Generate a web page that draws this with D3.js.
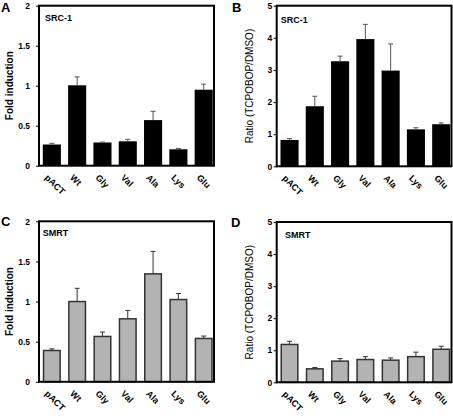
<!DOCTYPE html>
<html><head><meta charset="utf-8">
<script src="https://cdn.jsdelivr.net/npm/d3@7"></script>
<style>body{margin:0;background:#fff}svg{display:block;font-family:Arial,"Liberation Sans",sans-serif}</style>
</head><body><svg id="c" width="453" height="416"></svg>
<script>
const categories = ["pACT","Wt","Gly","Val","Ala","Lys","Glu"];
const srcFold = [0.265,1.005,0.29,0.305,0.57,0.205,0.95];
const srcFoldErr = [0.28,1.11,0.295,0.33,0.68,0.215,1.02];
const srcRatio = [0.82,1.87,3.27,3.96,2.98,1.15,1.31];
const srcRatioErr = [0.86,2.18,3.43,4.42,3.81,1.2,1.35];
const smrtFold = [0.39,1.0,0.565,0.785,1.345,1.025,0.54];
const smrtFoldErr = [0.41,1.165,0.62,0.89,1.625,1.1,0.57];
const smrtRatio = [1.18,0.42,0.66,0.71,0.69,0.80,1.03];
const smrtRatioErr = [1.28,0.46,0.74,0.80,0.76,0.94,1.125];
const foldTicks = [0,0.5,1,1.5,2];
const foldTickLabels = ["0","0.5","1","1.5","2"];
const ratioTicks = [0,1,2,3,4,5];
const ratioTickLabels = ["0","1","2","3","4","5"];

const svg = d3.select("#c");

const panels = [
  {letter:"A", lx:1, ly:12, x0:39, x1:214, y0:165.7, y1:5.7, max:2, vals:srcFold, errs:srcFoldErr, ticks:foldTicks, tl:foldTickLabels, label:"SRC-1", labX:45, labY:20.5, title:"Fold induction", tBold:true, tX:13, fill:"#000", stroke:"#000", errC:"#555", tickGap:9},
  {letter:"B", lx:232, ly:12, x0:276.7, x1:451.5, y0:166.3, y1:5.7, max:5, vals:srcRatio, errs:srcRatioErr, ticks:ratioTicks, tl:ratioTickLabels, label:"SRC-1", labX:280.7, labY:22.5, title:"Ratio (TCPOBOP/DMSO)", tBold:false, tX:253, fill:"#000", stroke:"#000", errC:"#555", tickGap:4.5},
  {letter:"C", lx:1, ly:226, x0:39, x1:214, y0:381.8, y1:221.3, max:2, vals:smrtFold, errs:smrtFoldErr, ticks:foldTicks, tl:foldTickLabels, label:"SMRT", labX:42.7, labY:236, title:"Fold induction", tBold:true, tX:13, fill:"#b3b3b3", stroke:"#333", errC:"#333", tickGap:9},
  {letter:"D", lx:231, ly:227, x0:276.7, x1:451.5, y0:382.3, y1:222, max:5, vals:smrtRatio, errs:smrtRatioErr, ticks:ratioTicks, tl:ratioTickLabels, label:"SMRT", labX:285, labY:237.5, title:"Ratio (TCPOBOP/DMSO)", tBold:false, tX:253, fill:"#b3b3b3", stroke:"#333", errC:"#333", tickGap:4.5}
];

panels.forEach(p => {
  const g = svg.append("g");
  const x = d3.scaleBand().domain(categories).range([p.x0, p.x1]).paddingInner(0.285).paddingOuter(0.1).align(0.75);
  const y = d3.scaleLinear().domain([0, p.max]).range([p.y0, p.y1]);

  g.selectAll("rect.bar").data(categories).enter().append("rect")
    .attr("x", d => x(d) + (p.fill === "#000" ? 0 : 0.75))
    .attr("width", x.bandwidth() - (p.fill === "#000" ? 0 : 1.5))
    .attr("y", (d,i) => y(p.vals[i]))
    .attr("height", (d,i) => y(0) - y(p.vals[i]))
    .attr("fill", p.fill)
    .attr("stroke", p.fill === "#000" ? "none" : p.stroke)
    .attr("stroke-width", 1.5);

  categories.forEach((d,i) => {
    const cx = x(d) + x.bandwidth()/2;
    g.append("line").attr("x1",cx).attr("x2",cx).attr("y1",y(p.vals[i])).attr("y2",y(p.errs[i]))
      .attr("stroke",p.errC).attr("stroke-width",1);
    g.append("line").attr("x1",cx-2.5).attr("x2",cx+2.5).attr("y1",y(p.errs[i])).attr("y2",y(p.errs[i]))
      .attr("stroke",p.errC).attr("stroke-width",1);
  });

  g.append("rect").attr("x",p.x0).attr("y",p.y1).attr("width",p.x1-p.x0).attr("height",p.y0-p.y1)
    .attr("fill","none").attr("stroke","#000").attr("stroke-width",2);

  const ya = d3.axisLeft(y).tickValues(p.ticks).tickFormat((d,i)=>p.tl[i]).tickSize(3).tickPadding(p.tickGap - 3);
  const ag = g.append("g").attr("transform",`translate(${p.x0},0)`).call(ya);
  ag.select(".domain").remove();
  ag.selectAll("line").attr("stroke","#000").attr("stroke-width",1);
  ag.selectAll("text").attr("font-size",8.5).attr("font-weight","bold").attr("fill","#000");

  g.selectAll("text.xl").data(categories).enter().append("text")
    .attr("transform", d => `translate(${x(d)+x.bandwidth()/2-3},${p.y0+8}) rotate(45)`)
    .attr("font-size",9).attr("font-weight","bold").attr("text-anchor","start")
    .attr("dominant-baseline","hanging")
    .text(d => d);

  g.append("text").attr("x",p.labX).attr("y",p.labY).attr("font-size",9).attr("font-weight","bold").text(p.label);

  g.append("text").attr("transform",`translate(${p.tX},${(p.y0+p.y1)/2}) rotate(-90)`)
    .attr("text-anchor","middle").attr("font-size",10).attr("font-weight",p.tBold?"bold":"normal").text(p.title);

  g.append("text").attr("x",p.lx).attr("y",p.ly).attr("font-size",13).attr("font-weight","bold").text(p.letter);
});
</script></body></html>
